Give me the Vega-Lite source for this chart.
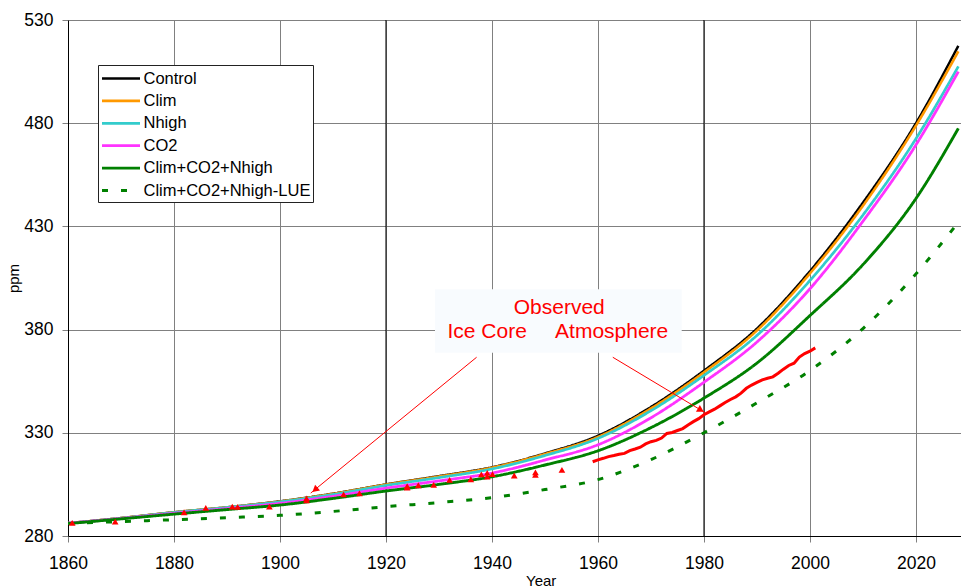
{
  "$schema": "https://vega.github.io/schema/vega-lite/v6.json",
  "width": 893,
  "height": 516,
  "autosize": {"type": "none"},
  "padding": {"left": 68, "top": 20, "right": 0, "bottom": 52},
  "background": "white",
  "config": {
    "font": "Liberation Sans",
    "view": {"stroke": null},
    "axis": {
      "gridColor": "#808080",
      "gridWidth": 1,
      "gridOpacity": 1,
      "domainColor": "#000000",
      "domainWidth": 1,
      "tickColor": "#808080",
      "tickSize": 6,
      "labelFont": "Liberation Sans",
      "labelFontSize": 17.5,
      "labelColor": "#000000",
      "titleFont": "Liberation Sans",
      "titleFontSize": 15,
      "titleFontWeight": "normal",
      "titleColor": "#000000"
    }
  },
  "datasets": {
    "model": [
      {"series": "Control", "year": 1860, "ppm": 286.2}, {"series": "Control", "year": 1870, "ppm": 288.7}, {"series": "Control", "year": 1880, "ppm": 291.5}, {"series": "Control", "year": 1890, "ppm": 293.9}, {"series": "Control", "year": 1900, "ppm": 296.8}, {"series": "Control", "year": 1910, "ppm": 300.5}, {"series": "Control", "year": 1920, "ppm": 305.0}, {"series": "Control", "year": 1930, "ppm": 309.0}, {"series": "Control", "year": 1940, "ppm": 313.3}, {"series": "Control", "year": 1950, "ppm": 320.0}, {"series": "Control", "year": 1960, "ppm": 328.6}, {"series": "Control", "year": 1970, "ppm": 342.5}, {"series": "Control", "year": 1980, "ppm": 360.1}, {"series": "Control", "year": 1990, "ppm": 380.5}, {"series": "Control", "year": 2000, "ppm": 408.3}, {"series": "Control", "year": 2010, "ppm": 441.5}, {"series": "Control", "year": 2020, "ppm": 480.0}, {"series": "Control", "year": 2028, "ppm": 517.5},
      {"series": "Clim", "year": 1860, "ppm": 286.2}, {"series": "Clim", "year": 1870, "ppm": 288.7}, {"series": "Clim", "year": 1880, "ppm": 291.5}, {"series": "Clim", "year": 1890, "ppm": 293.9}, {"series": "Clim", "year": 1900, "ppm": 296.7}, {"series": "Clim", "year": 1910, "ppm": 300.4}, {"series": "Clim", "year": 1920, "ppm": 304.9}, {"series": "Clim", "year": 1930, "ppm": 308.8}, {"series": "Clim", "year": 1940, "ppm": 313.1}, {"series": "Clim", "year": 1950, "ppm": 319.7}, {"series": "Clim", "year": 1960, "ppm": 328.0}, {"series": "Clim", "year": 1970, "ppm": 341.8}, {"series": "Clim", "year": 1980, "ppm": 359.3}, {"series": "Clim", "year": 1990, "ppm": 379.6}, {"series": "Clim", "year": 2000, "ppm": 407.2}, {"series": "Clim", "year": 2010, "ppm": 440.0}, {"series": "Clim", "year": 2020, "ppm": 478.8}, {"series": "Clim", "year": 2028, "ppm": 514.8},
      {"series": "Nhigh", "year": 1860, "ppm": 286.2}, {"series": "Nhigh", "year": 1870, "ppm": 288.6}, {"series": "Nhigh", "year": 1880, "ppm": 291.4}, {"series": "Nhigh", "year": 1890, "ppm": 293.8}, {"series": "Nhigh", "year": 1900, "ppm": 296.5}, {"series": "Nhigh", "year": 1910, "ppm": 300.1}, {"series": "Nhigh", "year": 1920, "ppm": 304.5}, {"series": "Nhigh", "year": 1930, "ppm": 308.3}, {"series": "Nhigh", "year": 1940, "ppm": 312.5}, {"series": "Nhigh", "year": 1950, "ppm": 319.0}, {"series": "Nhigh", "year": 1960, "ppm": 327.3}, {"series": "Nhigh", "year": 1970, "ppm": 340.7}, {"series": "Nhigh", "year": 1980, "ppm": 357.8}, {"series": "Nhigh", "year": 1990, "ppm": 377.2}, {"series": "Nhigh", "year": 2000, "ppm": 403.8}, {"series": "Nhigh", "year": 2010, "ppm": 435.5}, {"series": "Nhigh", "year": 2020, "ppm": 472.5}, {"series": "Nhigh", "year": 2028, "ppm": 507.5},
      {"series": "CO2", "year": 1860, "ppm": 286.2}, {"series": "CO2", "year": 1870, "ppm": 288.5}, {"series": "CO2", "year": 1880, "ppm": 291.0}, {"series": "CO2", "year": 1890, "ppm": 293.3}, {"series": "CO2", "year": 1900, "ppm": 295.8}, {"series": "CO2", "year": 1910, "ppm": 299.2}, {"series": "CO2", "year": 1920, "ppm": 303.2}, {"series": "CO2", "year": 1930, "ppm": 306.7}, {"series": "CO2", "year": 1940, "ppm": 310.5}, {"series": "CO2", "year": 1950, "ppm": 316.8}, {"series": "CO2", "year": 1960, "ppm": 324.2}, {"series": "CO2", "year": 1970, "ppm": 337.3}, {"series": "CO2", "year": 1980, "ppm": 354.5}, {"series": "CO2", "year": 1990, "ppm": 374.0}, {"series": "CO2", "year": 2000, "ppm": 399.8}, {"series": "CO2", "year": 2010, "ppm": 432.5}, {"series": "CO2", "year": 2020, "ppm": 469.5}, {"series": "CO2", "year": 2028, "ppm": 505.0},
      {"series": "Clim+CO2+Nhigh", "year": 1860, "ppm": 286.0}, {"series": "Clim+CO2+Nhigh", "year": 1870, "ppm": 288.3}, {"series": "Clim+CO2+Nhigh", "year": 1880, "ppm": 290.6}, {"series": "Clim+CO2+Nhigh", "year": 1890, "ppm": 292.8}, {"series": "Clim+CO2+Nhigh", "year": 1900, "ppm": 295.0}, {"series": "Clim+CO2+Nhigh", "year": 1910, "ppm": 298.2}, {"series": "Clim+CO2+Nhigh", "year": 1920, "ppm": 301.8}, {"series": "Clim+CO2+Nhigh", "year": 1930, "ppm": 305.0}, {"series": "Clim+CO2+Nhigh", "year": 1940, "ppm": 308.7}, {"series": "Clim+CO2+Nhigh", "year": 1950, "ppm": 314.4}, {"series": "Clim+CO2+Nhigh", "year": 1960, "ppm": 321.3}, {"series": "Clim+CO2+Nhigh", "year": 1970, "ppm": 332.5}, {"series": "Clim+CO2+Nhigh", "year": 1980, "ppm": 346.8}, {"series": "Clim+CO2+Nhigh", "year": 1990, "ppm": 363.8}, {"series": "Clim+CO2+Nhigh", "year": 2000, "ppm": 386.8}, {"series": "Clim+CO2+Nhigh", "year": 2010, "ppm": 411.5}, {"series": "Clim+CO2+Nhigh", "year": 2020, "ppm": 443.5}, {"series": "Clim+CO2+Nhigh", "year": 2028, "ppm": 477.5},
      {"series": "Clim+CO2+Nhigh-LUE", "year": 1860, "ppm": 286.0}, {"series": "Clim+CO2+Nhigh-LUE", "year": 1870, "ppm": 287.0}, {"series": "Clim+CO2+Nhigh-LUE", "year": 1880, "ppm": 287.9}, {"series": "Clim+CO2+Nhigh-LUE", "year": 1890, "ppm": 288.9}, {"series": "Clim+CO2+Nhigh-LUE", "year": 1900, "ppm": 290.0}, {"series": "Clim+CO2+Nhigh-LUE", "year": 1910, "ppm": 291.9}, {"series": "Clim+CO2+Nhigh-LUE", "year": 1920, "ppm": 294.2}, {"series": "Clim+CO2+Nhigh-LUE", "year": 1930, "ppm": 296.2}, {"series": "Clim+CO2+Nhigh-LUE", "year": 1940, "ppm": 298.6}, {"series": "Clim+CO2+Nhigh-LUE", "year": 1950, "ppm": 302.5}, {"series": "Clim+CO2+Nhigh-LUE", "year": 1960, "ppm": 307.3}, {"series": "Clim+CO2+Nhigh-LUE", "year": 1970, "ppm": 317.0}, {"series": "Clim+CO2+Nhigh-LUE", "year": 1980, "ppm": 330.0}, {"series": "Clim+CO2+Nhigh-LUE", "year": 1990, "ppm": 344.5}, {"series": "Clim+CO2+Nhigh-LUE", "year": 2000, "ppm": 360.2}, {"series": "Clim+CO2+Nhigh-LUE", "year": 2010, "ppm": 380.5}, {"series": "Clim+CO2+Nhigh-LUE", "year": 2020, "ppm": 407.0}, {"series": "Clim+CO2+Nhigh-LUE", "year": 2028, "ppm": 432.0}
    ],
    "obs": [
      {"year": 1959, "ppm": 315.97}, {"year": 1960, "ppm": 316.91}, {"year": 1961, "ppm": 317.64}, {"year": 1962, "ppm": 318.45}, {"year": 1963, "ppm": 318.99}, {"year": 1964, "ppm": 319.62}, {"year": 1965, "ppm": 320.04}, {"year": 1966, "ppm": 321.38}, {"year": 1967, "ppm": 322.16}, {"year": 1968, "ppm": 323.04}, {"year": 1969, "ppm": 324.62}, {"year": 1970, "ppm": 325.68}, {"year": 1971, "ppm": 326.32}, {"year": 1972, "ppm": 327.45}, {"year": 1973, "ppm": 329.68}, {"year": 1974, "ppm": 330.18}, {"year": 1975, "ppm": 331.11}, {"year": 1976, "ppm": 332.04}, {"year": 1977, "ppm": 333.83}, {"year": 1978, "ppm": 335.4}, {"year": 1979, "ppm": 336.84}, {"year": 1980, "ppm": 338.75}, {"year": 1981, "ppm": 340.11}, {"year": 1982, "ppm": 341.45}, {"year": 1983, "ppm": 343.05}, {"year": 1984, "ppm": 344.65}, {"year": 1985, "ppm": 346.12}, {"year": 1986, "ppm": 347.42}, {"year": 1987, "ppm": 349.19}, {"year": 1988, "ppm": 351.57}, {"year": 1989, "ppm": 353.12}, {"year": 1990, "ppm": 354.39}, {"year": 1991, "ppm": 355.61}, {"year": 1992, "ppm": 356.45}, {"year": 1993, "ppm": 357.1}, {"year": 1994, "ppm": 358.83}, {"year": 1995, "ppm": 360.82}, {"year": 1996, "ppm": 362.61}, {"year": 1997, "ppm": 363.73}, {"year": 1998, "ppm": 366.7}, {"year": 1999, "ppm": 368.38}, {"year": 2000, "ppm": 369.55}, {"year": 2001, "ppm": 371.14}
    ],
    "ice": [
      {"year": 1860.8, "ppm": 286.4}, {"year": 1868.9, "ppm": 287.0}, {"year": 1881.9, "ppm": 291.5}, {"year": 1886.0, "ppm": 293.6}, {"year": 1891.0, "ppm": 294.2}, {"year": 1892.0, "ppm": 294.1}, {"year": 1898.0, "ppm": 294.2}, {"year": 1905.0, "ppm": 297.3}, {"year": 1905.0, "ppm": 298.2}, {"year": 1912.0, "ppm": 300.2}, {"year": 1915.0, "ppm": 300.7}, {"year": 1924.0, "ppm": 303.4}, {"year": 1924.0, "ppm": 304.2}, {"year": 1926.1, "ppm": 304.6}, {"year": 1929.0, "ppm": 304.8}, {"year": 1932.0, "ppm": 307.2}, {"year": 1936.0, "ppm": 307.5}, {"year": 1938.0, "ppm": 309.9}, {"year": 1939.1, "ppm": 310.6}, {"year": 1939.1, "ppm": 308.8}, {"year": 1940.1, "ppm": 310.0}, {"year": 1944.2, "ppm": 309.3}, {"year": 1948.2, "ppm": 310.8}, {"year": 1948.2, "ppm": 309.6}, {"year": 1953.2, "ppm": 312.0}
    ],
    "darkgrid": [{"year": 1920}, {"year": 1980}],
    "box": [{"x1": 1929.25, "x2": 1975.8, "y1": 399.5, "y2": 368.8}],
    "labels": [
      {"text": "Observed", "year": 1944.1, "ppm": 387.4},
      {"text": "Ice Core", "year": 1931.6, "ppm": 375.8},
      {"text": "Atmosphere", "year": 1951.9, "ppm": 375.8}
    ],
    "arrows": [
      {"x1": 1937.1, "y1": 366.6, "x2": 1905.8, "y2": 300.8},
      {"x1": 1962.8, "y1": 366.6, "x2": 1980.2, "y2": 339.8}
    ],
    "heads": [
      {"year": 1906.6, "ppm": 302.4, "angle": 230.5},
      {"year": 1979.4, "ppm": 341.0, "angle": 121}
    ]
  },
  "layer": [
    {
      "data": {"name": "darkgrid"},
      "mark": {"type": "rule", "color": "#000000", "strokeWidth": 1},
      "encoding": {
        "x": {"field": "year", "type": "quantitative"}
      }
    },
    {
      "data": {"name": "model"},
      "mark": {"type": "line", "interpolate": "monotone", "clip": true},
      "encoding": {
        "x": {
          "field": "year", "type": "quantitative",
          "scale": {"domain": [1860, 2028.5], "nice": false, "zero": false},
          "axis": {
            "values": [1860, 1880, 1900, 1920, 1940, 1960, 1980, 2000, 2020],
            "format": "d",
            "labelFlush": false,
            "labelBaseline": "alphabetic",
            "labelPadding": 26,
            "title": "Year",
            "titleX": 472.7,
            "titleY": 49.5,
            "titleBaseline": "alphabetic",
            "titleAlign": "center"
          }
        },
        "y": {
          "field": "ppm", "type": "quantitative",
          "scale": {"domain": [280, 530], "nice": false, "zero": false},
          "axis": {
            "values": [280, 330, 380, 430, 480, 530],
            "labelPadding": 9,
            "title": "ppm",
            "titleX": -55,
            "titleY": 258,
            "titleAngle": 270,
            "titleBaseline": "middle",
            "titleAlign": "center"
          }
        },
        "color": {
          "field": "series", "type": "nominal",
          "scale": {
            "domain": ["Control", "Clim", "Nhigh", "CO2", "Clim+CO2+Nhigh", "Clim+CO2+Nhigh-LUE"],
            "range": ["#000000", "#FF9900", "#33CCCC", "#FF33FF", "#008000", "#008000"]
          },
          "legend": {
            "title": null,
            "orient": "none",
            "legendX": 30,
            "legendY": 45,
            "symbolType": "M-1,0H3",
            "symbolSize": 361,
            "symbolStrokeWidth": 3,
            "symbolFillColor": "transparent",
            "labelFont": "Liberation Sans",
            "labelFontSize": 16.5,
            "labelColor": "#000000",
            "labelOffset": 21,
            "labelLimit": 400,
            "rowPadding": 2.4,
            "padding": 2.5,
            "strokeColor": "#222222",
            "fillColor": "#ffffff",
            "symbolOffset": 0
          }
        },
        "strokeDash": {
          "field": "series", "type": "nominal",
          "scale": {
            "domain": ["Control", "Clim", "Nhigh", "CO2", "Clim+CO2+Nhigh", "Clim+CO2+Nhigh-LUE"],
            "range": [[1, 0], [1, 0], [1, 0], [1, 0], [1, 0], [6, 13]]
          },
          "legend": {"title": null}
        },
        "strokeWidth": {
          "field": "series", "type": "nominal",
          "scale": {
            "domain": ["Control", "Clim", "Nhigh", "CO2", "Clim+CO2+Nhigh", "Clim+CO2+Nhigh-LUE"],
            "range": [2.5, 3, 3, 3.5, 3, 3.5]
          },
          "legend": null
        }
      }
    },
    {
      "data": {"name": "obs"},
      "mark": {"type": "line", "color": "#FF0000", "strokeWidth": 3},
      "encoding": {
        "x": {"field": "year", "type": "quantitative"},
        "y": {"field": "ppm", "type": "quantitative"}
      }
    },
    {
      "data": {"name": "ice"},
      "mark": {"type": "point", "shape": "triangle-up", "filled": true, "color": "#FF0000", "size": 45, "opacity": 1},
      "encoding": {
        "x": {"field": "year", "type": "quantitative"},
        "y": {"field": "ppm", "type": "quantitative"}
      }
    },
    {
      "data": {"name": "box"},
      "mark": {"type": "rect", "fill": "#f8fbfe"},
      "encoding": {
        "x": {"field": "x1", "type": "quantitative"},
        "x2": {"field": "x2"},
        "y": {"field": "y1", "type": "quantitative"},
        "y2": {"field": "y2"}
      }
    },
    {
      "data": {"name": "labels"},
      "mark": {"type": "text", "align": "left", "baseline": "alphabetic", "fontSize": 21, "color": "#FF0000", "font": "Liberation Sans"},
      "encoding": {
        "x": {"field": "year", "type": "quantitative"},
        "y": {"field": "ppm", "type": "quantitative"},
        "text": {"field": "text"}
      }
    },
    {
      "data": {"name": "arrows"},
      "mark": {"type": "rule", "color": "#FF0000", "strokeWidth": 1},
      "encoding": {
        "x": {"field": "x1", "type": "quantitative"},
        "y": {"field": "y1", "type": "quantitative"},
        "x2": {"field": "x2"},
        "y2": {"field": "y2"}
      }
    },
    {
      "data": {"name": "heads"},
      "mark": {"type": "point", "shape": "triangle-up", "filled": true, "color": "#FF0000", "size": 60, "opacity": 1},
      "encoding": {
        "x": {"field": "year", "type": "quantitative"},
        "y": {"field": "ppm", "type": "quantitative"},
        "angle": {"field": "angle", "type": "quantitative", "scale": null}
      }
    }
  ]
}
